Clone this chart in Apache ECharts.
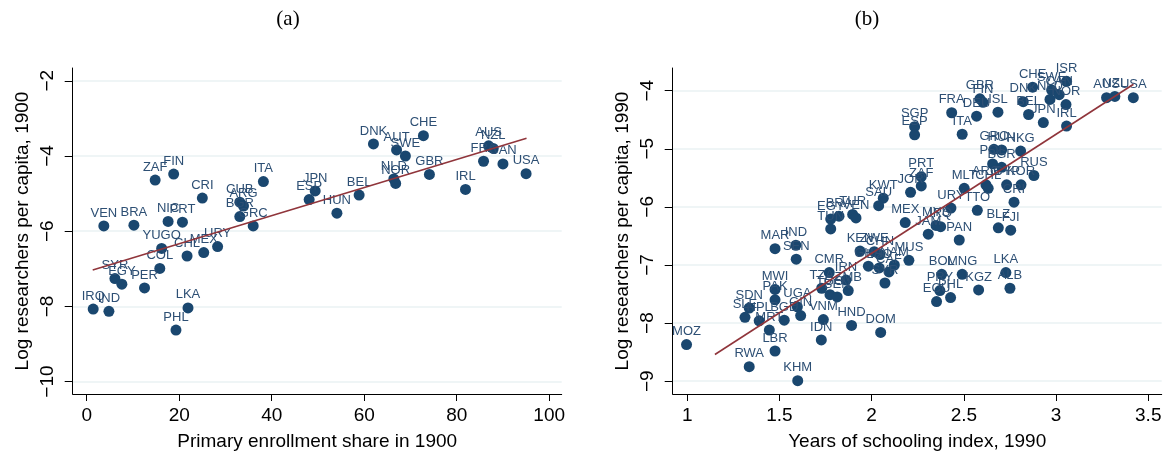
<!DOCTYPE html>
<html>
<head>
<meta charset="utf-8">
<script src="https://cdn.jsdelivr.net/npm/echarts@6/dist/echarts.min.js"></script>
<style>
  html, body { margin: 0; padding: 0; background: #ffffff; }
  #chart { width: 1167px; height: 456px; }
</style>
</head>
<body>
<div id="chart"></div>
<script>
// Panel (a): primary enrollment share in 1900 vs log researchers per capita, 1900
const codesA = ['ZAF','FIN','CRI','ITA','CUB','ARG','BGR','GRC','VEN','BRA','NIC','PRT','YUGO','CHL','MEX','URY','COL','SYR','EGY','PER','IRQ','IND','LKA','PHL','ESP','JPN','HUN','BEL','DNK','AUT','SWE','CHE','NLD','NOR','GBR','IRL','FRA','AUS','NZL','CAN','USA'];
const enrollA = [14.8,18.8,25.0,38.2,33.1,33.9,33.1,36.0,3.7,10.2,17.6,20.7,16.2,21.7,25.3,28.3,15.8,6.1,7.6,12.5,1.4,4.8,21.9,19.3,48.1,49.4,54.1,58.9,62.0,67.0,68.9,72.8,66.4,66.8,74.1,81.9,85.8,86.9,87.9,90.0,95.0];
const researchA = [-4.64,-4.48,-5.12,-4.68,-5.23,-5.33,-5.61,-5.86,-5.86,-5.84,-5.74,-5.76,-6.46,-6.66,-6.57,-6.41,-6.99,-7.26,-7.41,-7.51,-8.07,-8.13,-8.04,-8.63,-5.16,-4.93,-5.52,-5.04,-3.68,-3.84,-4.00,-3.46,-4.61,-4.73,-4.49,-4.89,-4.14,-3.73,-3.80,-4.21,-4.47];
const fitAX = [1.3, 95.1];
const fitAY = [-7.03, -3.53];
const ticksAX = [0, 20, 40, 60, 80, 100];
const ticksAY = [-10, -8, -6, -4, -2];

// Panel (b): years of schooling index vs log researchers per capita, 1990
const codesB = ['MOZ','RWA','KHM','LBR','IDN','DOM','HND','VNM','SDN','SLE','NPL','MRT','BGD','UGA','GIN','MWI','PAK','TZA','TGO','BEN','ZMB','IRN','CMR','MAR','IND','SEN','KEN','ZWE','CHN','GHA','LSO','CAF','NAM','SYR','MUS','TUN','EGY','BRA','TUR','VEN','KWT','SAU','MEX','JOR','PRT','ZAF','SGP','ESP','JAM','MYS','IRQ','PAN','BLZ','FJI','BOL','MNG','KGZ','LKA','ALB','PRY','PHL','ECU','URY','TTO','MLT','ARG','CHL','CYP','KOR','CRI','RUS','POL','BGR','GRC','HUN','HKG','FRA','ITA','GBR','FIN','DEU','ISL','CHE','DNK','BEL','JPN','IRL','NOR','ISR','SWE','NLD','CAN','AUS','NZL','USA'];
const schoolB = [0.996,1.336,1.599,1.476,1.727,2.049,1.891,1.738,1.336,1.313,1.390,1.445,1.526,1.597,1.615,1.476,1.476,1.729,1.774,1.813,1.873,1.861,1.770,1.476,1.589,1.591,1.937,2.014,2.045,1.982,2.041,2.094,2.123,2.072,2.202,1.778,1.778,1.823,1.897,1.915,2.063,2.038,2.182,2.211,2.269,2.269,2.233,2.233,2.307,2.349,2.374,2.475,2.687,2.754,2.380,2.491,2.580,2.728,2.750,2.370,2.428,2.352,2.430,2.573,2.502,2.620,2.632,2.732,2.810,2.772,2.880,2.656,2.705,2.663,2.705,2.808,2.434,2.491,2.587,2.604,2.569,2.685,2.873,2.822,2.851,2.931,3.057,3.054,3.057,2.976,2.967,3.017,3.274,3.319,3.419];
const researchB = [-8.37,-8.75,-8.99,-8.48,-8.29,-8.16,-8.04,-7.94,-7.74,-7.90,-7.96,-8.12,-7.95,-7.72,-7.87,-7.42,-7.60,-7.40,-7.51,-7.55,-7.44,-7.26,-7.13,-6.72,-6.66,-6.90,-6.76,-6.77,-6.82,-7.02,-7.05,-7.12,-7.00,-7.31,-6.92,-6.38,-6.21,-6.16,-6.13,-6.19,-5.85,-5.98,-6.27,-5.75,-5.48,-5.64,-4.62,-4.76,-6.47,-6.32,-6.34,-6.57,-6.36,-6.40,-7.16,-7.16,-7.43,-7.13,-7.40,-7.44,-7.56,-7.63,-6.02,-6.06,-5.68,-5.62,-5.68,-5.62,-5.62,-5.92,-5.46,-5.26,-5.32,-5.01,-5.02,-5.04,-4.38,-4.75,-4.14,-4.20,-4.44,-4.37,-3.94,-4.19,-4.41,-4.55,-4.61,-4.24,-3.84,-3.99,-4.15,-4.07,-4.12,-4.10,-4.12];
const fitBX = [1.15, 3.42];
const fitBY = [-8.54, -3.89];
const ticksBX = [1, 1.5, 2, 2.5, 3, 3.5];
const ticksBY = [-9, -8, -7, -6, -5, -4];

const MARKER = '#1a476f';
const FIT = '#90353b';
const GRID = '#eaf2f3';
const FONT = '"Liberation Sans", Arial, sans-serif';

const zip3 = (xs, ys, names) => xs.map((x, i) => [x, ys[i], names[i]]);
const zip2 = (xs, ys) => xs.map((x, i) => [x, ys[i]]);
const minusFmt = v => String(v).replace('-', '\u2212');

function xAxisOf(gridIndex, min, max, ticks, name) {
  return {
    type: 'value', gridIndex, min, max, name,
    nameLocation: 'middle', nameGap: 38,
    nameTextStyle: { fontFamily: FONT, fontSize: 19, color: '#000' },
    axisLine: { show: true, onZero: false, lineStyle: { color: '#000', width: 1 } },
    axisTick: { show: true, length: 7, customValues: ticks, lineStyle: { color: '#000' } },
    axisLabel: { customValues: ticks, margin: 12, fontFamily: FONT, fontSize: 19, color: '#000', formatter: minusFmt },
    splitLine: { show: false }
  };
}
function yAxisOf(gridIndex, min, max, ticks, name) {
  return {
    type: 'value', gridIndex, min, max, name,
    nameLocation: 'middle', nameGap: 40,
    nameTextStyle: { fontFamily: FONT, fontSize: 19, color: '#000' },
    axisLine: { show: true, onZero: false, lineStyle: { color: '#000', width: 1 } },
    axisTick: { show: true, length: 8, customValues: ticks, lineStyle: { color: '#000' } },
    axisLabel: { customValues: ticks, rotate: 90, margin: 15, fontFamily: FONT, fontSize: 19, color: '#000', formatter: minusFmt },
    splitLine: { show: true, lineStyle: { color: GRID, width: 1.5 } }
  };
}
function scatterOf(idx, data) {
  return {
    type: 'scatter', xAxisIndex: idx, yAxisIndex: idx, data,
    symbolSize: 11, itemStyle: { color: MARKER, opacity: 1 },
    label: {
      show: true, position: 'top', distance: 1,
      formatter: p => p.data[2],
      fontFamily: FONT, fontSize: 13, color: '#2d4f74'
    },
    emphasis: { disabled: true }, z: 2
  };
}
function fitOf(idx, data) {
  return {
    type: 'line', xAxisIndex: idx, yAxisIndex: idx, data,
    symbol: 'none', lineStyle: { color: FIT, width: 1.6 }, z: 3, silent: true
  };
}

const chart = echarts.init(document.getElementById('chart'), null, { renderer: 'canvas' });
chart.setOption({
  animation: false,
  backgroundColor: '#ffffff',
  title: [
    { text: '(a)', left: 283, top: 4, textAlign: 'center',
      textStyle: { fontFamily: '"Liberation Serif", serif', fontSize: 21, fontWeight: 'normal', color: '#000' } },
    { text: '(b)', left: 862, top: 4, textAlign: 'center',
      textStyle: { fontFamily: '"Liberation Serif", serif', fontSize: 21, fontWeight: 'normal', color: '#000' } }
  ],
  grid: [
    { left: 72.7, top: 68, width: 489, height: 329 },
    { left: 672.7, top: 68, width: 489, height: 329 }
  ],
  xAxis: [
    xAxisOf(0, -3.03, 102.7, ticksAX, 'Primary enrollment share in 1900'),
    xAxisOf(1, 0.921, 3.573, ticksBX, 'Years of schooling index, 1990')
  ],
  yAxis: [
    yAxisOf(0, -10.33, -1.66, ticksAY, 'Log researchers per capita, 1900'),
    yAxisOf(1, -9.22, -3.61, ticksBY, 'Log researchers per capita, 1990')
  ],
  series: [
    scatterOf(0, zip3(enrollA, researchA, codesA)),
    fitOf(0, zip2(fitAX, fitAY)),
    scatterOf(1, zip3(schoolB, researchB, codesB)),
    fitOf(1, zip2(fitBX, fitBY))
  ]
});
</script>
</body>
</html>
